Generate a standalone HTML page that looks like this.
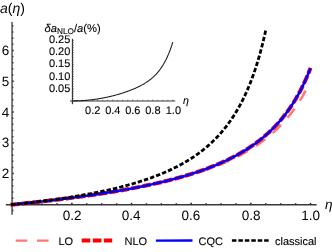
<!DOCTYPE html>
<html><head><meta charset="utf-8"><title>a(eta) chart</title>
<style>
html,body{margin:0;padding:0;background:#fff;}
body{width:332px;height:252px;overflow:hidden;font-family:"Liberation Sans",sans-serif;}
svg{display:block;will-change:transform;}
svg text{text-rendering:geometricPrecision;}
</style></head><body>
<svg width="332" height="252" viewBox="0 0 332 252">
<rect width="332" height="252" fill="#fff"/>
<g stroke="#383838" stroke-width="1.3" fill="none">
<line x1="12.05" y1="22" x2="12.05" y2="214.7"/>
<line x1="5.8" y1="204.75" x2="316.6" y2="204.75"/>
</g>
<g stroke="#2a2a2a" stroke-width="1.5" fill="none">
<line x1="27.16" y1="204.75" x2="27.16" y2="203.25"/>
<line x1="42.08" y1="204.75" x2="42.08" y2="203.25"/>
<line x1="56.99" y1="204.75" x2="56.99" y2="203.25"/>
<line x1="71.90" y1="204.75" x2="71.90" y2="202.85"/>
<line x1="86.81" y1="204.75" x2="86.81" y2="203.25"/>
<line x1="101.73" y1="204.75" x2="101.73" y2="203.25"/>
<line x1="116.64" y1="204.75" x2="116.64" y2="203.25"/>
<line x1="131.55" y1="204.75" x2="131.55" y2="202.85"/>
<line x1="146.46" y1="204.75" x2="146.46" y2="203.25"/>
<line x1="161.38" y1="204.75" x2="161.38" y2="203.25"/>
<line x1="176.29" y1="204.75" x2="176.29" y2="203.25"/>
<line x1="191.20" y1="204.75" x2="191.20" y2="202.85"/>
<line x1="206.11" y1="204.75" x2="206.11" y2="203.25"/>
<line x1="221.03" y1="204.75" x2="221.03" y2="203.25"/>
<line x1="235.94" y1="204.75" x2="235.94" y2="203.25"/>
<line x1="250.85" y1="204.75" x2="250.85" y2="202.85"/>
<line x1="265.76" y1="204.75" x2="265.76" y2="203.25"/>
<line x1="280.68" y1="204.75" x2="280.68" y2="203.25"/>
<line x1="295.59" y1="204.75" x2="295.59" y2="203.25"/>
<line x1="310.50" y1="204.75" x2="310.50" y2="202.85"/>
<line x1="12.25" y1="210.56" x2="13.40" y2="210.56"/>
<line x1="12.25" y1="198.24" x2="13.40" y2="198.24"/>
<line x1="12.25" y1="192.09" x2="13.40" y2="192.09"/>
<line x1="12.25" y1="185.93" x2="13.40" y2="185.93"/>
<line x1="12.25" y1="179.78" x2="13.40" y2="179.78"/>
<line x1="12.25" y1="173.62" x2="13.75" y2="173.62"/>
<line x1="12.25" y1="167.46" x2="13.40" y2="167.46"/>
<line x1="12.25" y1="161.31" x2="13.40" y2="161.31"/>
<line x1="12.25" y1="155.15" x2="13.40" y2="155.15"/>
<line x1="12.25" y1="149.00" x2="13.40" y2="149.00"/>
<line x1="12.25" y1="142.84" x2="13.75" y2="142.84"/>
<line x1="12.25" y1="136.68" x2="13.40" y2="136.68"/>
<line x1="12.25" y1="130.53" x2="13.40" y2="130.53"/>
<line x1="12.25" y1="124.37" x2="13.40" y2="124.37"/>
<line x1="12.25" y1="118.22" x2="13.40" y2="118.22"/>
<line x1="12.25" y1="112.06" x2="13.75" y2="112.06"/>
<line x1="12.25" y1="105.90" x2="13.40" y2="105.90"/>
<line x1="12.25" y1="99.75" x2="13.40" y2="99.75"/>
<line x1="12.25" y1="93.59" x2="13.40" y2="93.59"/>
<line x1="12.25" y1="87.44" x2="13.40" y2="87.44"/>
<line x1="12.25" y1="81.28" x2="13.75" y2="81.28"/>
<line x1="12.25" y1="75.12" x2="13.40" y2="75.12"/>
<line x1="12.25" y1="68.97" x2="13.40" y2="68.97"/>
<line x1="12.25" y1="62.81" x2="13.40" y2="62.81"/>
<line x1="12.25" y1="56.66" x2="13.40" y2="56.66"/>
<line x1="12.25" y1="50.50" x2="13.75" y2="50.50"/>
<line x1="12.25" y1="44.34" x2="13.40" y2="44.34"/>
<line x1="12.25" y1="38.19" x2="13.40" y2="38.19"/>
<line x1="12.25" y1="32.03" x2="13.40" y2="32.03"/>
<line x1="12.25" y1="25.88" x2="13.40" y2="25.88"/>
</g>
<path d="M12.25 204.60 L13.49 204.48 L14.73 204.35 L15.96 204.23 L17.20 204.10 L18.44 203.98 L19.68 203.85 L20.92 203.73 L22.15 203.60 L23.39 203.47 L24.63 203.34 L25.87 203.21 L27.11 203.08 L28.34 202.95 L29.58 202.82 L30.82 202.69 L32.06 202.55 L33.29 202.42 L34.53 202.28 L35.77 202.15 L37.01 202.01 L38.25 201.88 L39.48 201.74 L40.72 201.60 L41.96 201.46 L43.20 201.32 L44.44 201.18 L45.67 201.04 L46.91 200.90 L48.15 200.75 L49.39 200.61 L50.63 200.47 L51.86 200.32 L53.10 200.17 L54.34 200.03 L55.58 199.88 L56.82 199.73 L58.05 199.58 L59.29 199.43 L60.53 199.28 L61.77 199.13 L63.00 198.97 L64.24 198.82 L65.48 198.66 L66.72 198.51 L67.96 198.35 L69.19 198.19 L70.43 198.03 L71.67 197.87 L72.91 197.71 L74.15 197.55 L75.38 197.38 L76.62 197.22 L77.86 197.06 L79.10 196.89 L80.34 196.72 L81.57 196.55 L82.81 196.38 L84.05 196.21 L85.29 196.04 L86.53 195.87 L87.76 195.69 L89.00 195.52 L90.24 195.34 L91.48 195.16 L92.72 194.98 L93.95 194.80 L95.19 194.62 L96.43 194.44 L97.67 194.25 L98.90 194.07 L100.14 193.88 L101.38 193.69 L102.62 193.50 L103.86 193.31 L105.09 193.12 L106.33 192.93 L107.57 192.73 L108.81 192.53 L110.05 192.34 L111.28 192.14 L112.52 191.93 L113.76 191.73 L115.00 191.53 L116.24 191.32 L117.47 191.11 L118.71 190.90 L119.95 190.69 L121.19 190.48 L122.43 190.27 L123.66 190.05 L124.90 189.83 L126.14 189.61 L127.38 189.39 L128.61 189.17 L129.85 188.94 L131.09 188.72 L132.33 188.49 L133.57 188.26 L134.80 188.03 L136.04 187.79 L137.28 187.55 L138.52 187.32 L139.76 187.07 L140.99 186.83 L142.23 186.59 L143.47 186.34 L144.71 186.09 L145.95 185.84 L147.18 185.58 L148.42 185.33 L149.66 185.07 L150.90 184.81 L152.14 184.54 L153.37 184.27 L154.61 184.01 L155.85 183.73 L157.09 183.46 L158.33 183.18 L159.56 182.90 L160.80 182.62 L162.04 182.34 L163.28 182.05 L164.51 181.76 L165.75 181.46 L166.99 181.17 L168.23 180.86 L169.47 180.56 L170.70 180.25 L171.94 179.95 L173.18 179.63 L174.42 179.32 L175.66 179.00 L176.89 178.67 L178.13 178.34 L179.37 178.01 L180.61 177.68 L181.85 177.34 L183.08 177.00 L184.32 176.65 L185.56 176.30 L186.80 175.95 L188.04 175.59 L189.27 175.23 L190.51 174.86 L191.75 174.49 L192.99 174.12 L194.22 173.73 L195.46 173.35 L196.70 172.96 L197.94 172.57 L199.18 172.17 L200.41 171.76 L201.65 171.35 L202.89 170.94 L204.13 170.51 L205.37 170.09 L206.60 169.66 L207.84 169.22 L209.08 168.77 L210.32 168.32 L211.56 167.87 L212.79 167.41 L214.03 166.94 L215.27 166.46 L216.51 165.98 L217.75 165.49 L218.98 164.99 L220.22 164.49 L221.46 163.98 L222.70 163.46 L223.94 162.93 L225.17 162.40 L226.41 161.86 L227.65 161.30 L228.89 160.74 L230.12 160.18 L231.36 159.60 L232.60 159.01 L233.84 158.41 L235.08 157.81 L236.31 157.19 L237.55 156.57 L238.79 155.93 L240.03 155.28 L241.27 154.62 L242.50 153.95 L243.74 153.27 L244.98 152.57 L246.22 151.86 L247.46 151.14 L248.69 150.41 L249.93 149.66 L251.17 148.90 L252.41 148.13 L253.65 147.34 L254.88 146.53 L256.12 145.71 L257.36 144.88 L258.60 144.02 L259.83 143.15 L261.07 142.26 L262.31 141.35 L263.55 140.43 L264.79 139.48 L266.02 138.52 L267.26 137.53 L268.50 136.52 L269.74 135.49 L270.98 134.43 L272.21 133.36 L273.45 132.25 L274.69 131.12 L275.93 129.97 L277.17 128.79 L278.40 127.58 L279.64 126.33 L280.88 125.06 L282.12 123.76 L283.36 122.42 L284.59 121.05 L285.83 119.64 L287.07 118.20 L288.31 116.71 L289.55 115.19 L290.78 113.62 L292.02 112.01 L293.26 110.35 L294.50 108.65 L295.73 106.89 L296.97 105.08 L298.21 103.22 L299.45 101.30 L300.69 99.32 L301.92 97.27 L303.16 95.16 L304.40 92.98 L305.64 90.73 L306.88 88.40 L308.11 85.99" fill="none" stroke="#ff7878" stroke-width="2.5" stroke-dasharray="11.6 9.6" stroke-dashoffset="1.7"/>
<path d="M10.46 204.78 L11.72 204.65 L12.97 204.53 L14.23 204.40 L15.48 204.28 L16.74 204.15 L17.99 204.02 L19.25 203.90 L20.50 203.77 L21.76 203.64 L23.01 203.51 L24.27 203.38 L25.53 203.25 L26.78 203.11 L28.04 202.98 L29.29 202.85 L30.55 202.71 L31.80 202.58 L33.06 202.44 L34.31 202.31 L35.57 202.17 L36.82 202.03 L38.08 201.89 L39.33 201.75 L40.59 201.61 L41.85 201.47 L43.10 201.33 L44.36 201.18 L45.61 201.04 L46.87 200.90 L48.12 200.75 L49.38 200.60 L50.63 200.46 L51.89 200.31 L53.14 200.16 L54.40 200.01 L55.65 199.86 L56.91 199.70 L58.17 199.55 L59.42 199.40 L60.68 199.24 L61.93 199.09 L63.19 198.93 L64.44 198.77 L65.70 198.61 L66.95 198.45 L68.21 198.29 L69.46 198.13 L70.72 197.97 L71.97 197.80 L73.23 197.64 L74.49 197.47 L75.74 197.30 L77.00 197.14 L78.25 196.97 L79.51 196.80 L80.76 196.62 L82.02 196.45 L83.27 196.28 L84.53 196.10 L85.78 195.92 L87.04 195.74 L88.30 195.57 L89.55 195.38 L90.81 195.20 L92.06 195.02 L93.32 194.83 L94.57 194.65 L95.83 194.46 L97.08 194.27 L98.34 194.08 L99.59 193.89 L100.85 193.70 L102.10 193.50 L103.36 193.31 L104.62 193.11 L105.87 192.91 L107.13 192.71 L108.38 192.51 L109.64 192.30 L110.89 192.10 L112.15 191.89 L113.40 191.68 L114.66 191.47 L115.91 191.26 L117.17 191.04 L118.42 190.83 L119.68 190.61 L120.94 190.39 L122.19 190.17 L123.45 189.95 L124.70 189.72 L125.96 189.49 L127.21 189.26 L128.47 189.03 L129.72 188.80 L130.98 188.56 L132.23 188.33 L133.49 188.09 L134.74 187.85 L136.00 187.60 L137.26 187.36 L138.51 187.11 L139.77 186.86 L141.02 186.60 L142.28 186.35 L143.53 186.09 L144.79 185.83 L146.04 185.57 L147.30 185.30 L148.55 185.03 L149.81 184.76 L151.06 184.49 L152.32 184.21 L153.58 183.93 L154.83 183.65 L156.09 183.37 L157.34 183.08 L158.60 182.79 L159.85 182.49 L161.11 182.20 L162.36 181.90 L163.62 181.59 L164.87 181.29 L166.13 180.98 L167.38 180.66 L168.64 180.35 L169.90 180.03 L171.15 179.70 L172.41 179.38 L173.66 179.04 L174.92 178.71 L176.17 178.37 L177.43 178.03 L178.68 177.68 L179.94 177.33 L181.19 176.97 L182.45 176.61 L183.71 176.25 L184.96 175.88 L186.22 175.51 L187.47 175.13 L188.73 174.75 L189.98 174.36 L191.24 173.97 L192.49 173.57 L193.75 173.17 L195.00 172.76 L196.26 172.35 L197.51 171.93 L198.77 171.50 L200.03 171.07 L201.28 170.64 L202.54 170.20 L203.79 169.75 L205.05 169.29 L206.30 168.83 L207.56 168.36 L208.81 167.89 L210.07 167.41 L211.32 166.92 L212.58 166.42 L213.83 165.92 L215.09 165.41 L216.35 164.89 L217.60 164.36 L218.86 163.83 L220.11 163.29 L221.37 162.73 L222.62 162.17 L223.88 161.60 L225.13 161.02 L226.39 160.44 L227.64 159.84 L228.90 159.23 L230.15 158.61 L231.41 157.98 L232.67 157.34 L233.92 156.69 L235.18 156.03 L236.43 155.35 L237.69 154.66 L238.94 153.97 L240.20 153.25 L241.45 152.53 L242.71 151.79 L243.96 151.03 L245.22 150.27 L246.47 149.48 L247.73 148.69 L248.99 147.87 L250.24 147.04 L251.50 146.20 L252.75 145.33 L254.01 144.45 L255.26 143.55 L256.52 142.63 L257.77 141.69 L259.03 140.73 L260.28 139.75 L261.54 138.74 L262.79 137.72 L264.05 136.67 L265.31 135.59 L266.56 134.50 L267.82 133.37 L269.07 132.22 L270.33 131.04 L271.58 129.83 L272.84 128.59 L274.09 127.32 L275.35 126.02 L276.60 124.68 L277.86 123.31 L279.12 121.90 L280.37 120.45 L281.63 118.97 L282.88 117.44 L284.14 115.87 L285.39 114.25 L286.65 112.59 L287.90 110.87 L289.16 109.11 L290.41 107.29 L291.67 105.41 L292.92 103.48 L294.18 101.48 L295.44 99.42 L296.69 97.28 L297.95 95.08 L299.20 92.80 L300.46 90.44 L301.71 88.00 L302.97 85.47 L304.22 82.84 L305.48 80.11 L306.73 77.28 L307.99 74.34 L309.24 71.28 L310.50 68.10" fill="none" stroke="#ff0000" stroke-width="4" stroke-dasharray="8.6 2.5"/>
<path d="M11.36 204.69 L12.61 204.56 L13.86 204.44 L15.11 204.31 L16.36 204.19 L17.61 204.06 L18.87 203.93 L20.12 203.81 L21.37 203.68 L22.62 203.55 L23.87 203.42 L25.12 203.29 L26.38 203.16 L27.63 203.02 L28.88 202.89 L30.13 202.76 L31.38 202.62 L32.63 202.49 L33.88 202.35 L35.14 202.22 L36.39 202.08 L37.64 201.94 L38.89 201.80 L40.14 201.66 L41.39 201.52 L42.65 201.38 L43.90 201.24 L45.15 201.09 L46.40 200.95 L47.65 200.80 L48.90 200.66 L50.16 200.51 L51.41 200.36 L52.66 200.22 L53.91 200.07 L55.16 199.92 L56.41 199.76 L57.67 199.61 L58.92 199.46 L60.17 199.31 L61.42 199.15 L62.67 198.99 L63.92 198.84 L65.18 198.68 L66.43 198.52 L67.68 198.36 L68.93 198.20 L70.18 198.04 L71.43 197.87 L72.69 197.71 L73.94 197.54 L75.19 197.38 L76.44 197.21 L77.69 197.04 L78.94 196.87 L80.20 196.70 L81.45 196.53 L82.70 196.36 L83.95 196.18 L85.20 196.00 L86.45 195.83 L87.71 195.65 L88.96 195.47 L90.21 195.29 L91.46 195.11 L92.71 194.92 L93.96 194.74 L95.22 194.55 L96.47 194.36 L97.72 194.18 L98.97 193.99 L100.22 193.79 L101.47 193.60 L102.73 193.40 L103.98 193.21 L105.23 193.01 L106.48 192.81 L107.73 192.61 L108.98 192.41 L110.24 192.20 L111.49 192.00 L112.74 191.79 L113.99 191.58 L115.24 191.37 L116.49 191.16 L117.75 190.94 L119.00 190.73 L120.25 190.51 L121.50 190.29 L122.75 190.07 L124.00 189.85 L125.26 189.62 L126.51 189.39 L127.76 189.16 L129.01 188.93 L130.26 188.70 L131.51 188.46 L132.77 188.23 L134.02 187.99 L135.27 187.74 L136.52 187.50 L137.77 187.25 L139.02 187.01 L140.28 186.75 L141.53 186.50 L142.78 186.25 L144.03 185.99 L145.28 185.73 L146.53 185.46 L147.79 185.20 L149.04 184.93 L150.29 184.66 L151.54 184.38 L152.79 184.11 L154.04 183.83 L155.30 183.55 L156.55 183.26 L157.80 182.97 L159.05 182.68 L160.30 182.39 L161.55 182.09 L162.81 181.79 L164.06 181.49 L165.31 181.18 L166.56 180.87 L167.81 180.56 L169.06 180.24 L170.32 179.92 L171.57 179.60 L172.82 179.27 L174.07 178.94 L175.32 178.60 L176.57 178.26 L177.82 177.92 L179.08 177.57 L180.33 177.22 L181.58 176.86 L182.83 176.50 L184.08 176.14 L185.33 175.77 L186.59 175.40 L187.84 175.02 L189.09 174.64 L190.34 174.25 L191.59 173.86 L192.84 173.46 L194.10 173.06 L195.35 172.65 L196.60 172.23 L197.85 171.81 L199.10 171.39 L200.35 170.96 L201.61 170.52 L202.86 170.08 L204.11 169.63 L205.36 169.18 L206.61 168.72 L207.86 168.25 L209.12 167.77 L210.37 167.29 L211.62 166.80 L212.87 166.31 L214.12 165.80 L215.37 165.29 L216.63 164.77 L217.88 164.25 L219.13 163.71 L220.38 163.17 L221.63 162.62 L222.88 162.05 L224.14 161.48 L225.39 160.91 L226.64 160.32 L227.89 159.72 L229.14 159.11 L230.39 158.49 L231.65 157.86 L232.90 157.22 L234.15 156.57 L235.40 155.91 L236.65 155.23 L237.90 154.54 L239.16 153.84 L240.41 153.13 L241.66 152.41 L242.91 151.67 L244.16 150.91 L245.41 150.15 L246.67 149.36 L247.92 148.57 L249.17 147.75 L250.42 146.92 L251.67 146.08 L252.92 145.21 L254.18 144.33 L255.43 143.43 L256.68 142.51 L257.93 141.57 L259.18 140.61 L260.43 139.63 L261.69 138.63 L262.94 137.60 L264.19 136.55 L265.44 135.48 L266.69 134.38 L267.94 133.26 L269.20 132.11 L270.45 130.93 L271.70 129.72 L272.95 128.48 L274.20 127.21 L275.45 125.91 L276.71 124.57 L277.96 123.20 L279.21 121.79 L280.46 120.35 L281.71 118.86 L282.96 117.34 L284.22 115.77 L285.47 114.15 L286.72 112.49 L287.97 110.78 L289.22 109.02 L290.47 107.20 L291.73 105.33 L292.98 103.39 L294.23 101.40 L295.48 99.34 L296.73 97.21 L297.98 95.01 L299.24 92.74 L300.49 90.38 L301.74 87.95 L302.99 85.42 L304.24 82.80 L305.49 80.08 L306.75 77.26 L308.00 74.32 L309.25 71.27 L310.50 68.10" fill="none" stroke="#0000ff" stroke-width="2.5"/>
<path d="M11.00 204.73 L12.06 204.62 L13.13 204.51 L14.20 204.40 L15.26 204.29 L16.33 204.17 L17.39 204.06 L18.46 203.95 L19.53 203.83 L20.59 203.71 L21.66 203.60 L22.72 203.48 L23.79 203.36 L24.85 203.24 L25.92 203.12 L26.99 203.00 L28.05 202.88 L29.12 202.75 L30.18 202.63 L31.25 202.51 L32.32 202.38 L33.38 202.25 L34.45 202.12 L35.51 202.00 L36.58 201.87 L37.65 201.74 L38.71 201.60 L39.78 201.47 L40.84 201.34 L41.91 201.20 L42.98 201.06 L44.04 200.93 L45.11 200.79 L46.17 200.65 L47.24 200.51 L48.31 200.37 L49.37 200.22 L50.44 200.08 L51.50 199.93 L52.57 199.79 L53.64 199.64 L54.70 199.49 L55.77 199.34 L56.83 199.19 L57.90 199.04 L58.97 198.88 L60.03 198.73 L61.10 198.57 L62.16 198.41 L63.23 198.25 L64.30 198.09 L65.36 197.93 L66.43 197.77 L67.49 197.60 L68.56 197.44 L69.63 197.27 L70.69 197.10 L71.76 196.93 L72.82 196.76 L73.89 196.58 L74.96 196.41 L76.02 196.23 L77.09 196.05 L78.15 195.87 L79.22 195.69 L80.28 195.50 L81.35 195.32 L82.42 195.13 L83.48 194.94 L84.55 194.75 L85.61 194.56 L86.68 194.36 L87.75 194.17 L88.81 193.97 L89.88 193.77 L90.94 193.57 L92.01 193.36 L93.08 193.16 L94.14 192.95 L95.21 192.74 L96.27 192.53 L97.34 192.31 L98.41 192.10 L99.47 191.88 L100.54 191.66 L101.60 191.43 L102.67 191.21 L103.74 190.98 L104.80 190.75 L105.87 190.52 L106.93 190.28 L108.00 190.05 L109.07 189.81 L110.13 189.56 L111.20 189.32 L112.26 189.07 L113.33 188.82 L114.40 188.57 L115.46 188.31 L116.53 188.05 L117.59 187.79 L118.66 187.53 L119.73 187.26 L120.79 186.99 L121.86 186.72 L122.92 186.44 L123.99 186.16 L125.06 185.88 L126.12 185.59 L127.19 185.30 L128.25 185.01 L129.32 184.71 L130.39 184.41 L131.45 184.11 L132.52 183.80 L133.58 183.49 L134.65 183.18 L135.72 182.86 L136.78 182.54 L137.85 182.21 L138.91 181.88 L139.98 181.54 L141.04 181.21 L142.11 180.86 L143.18 180.52 L144.24 180.16 L145.31 179.81 L146.37 179.45 L147.44 179.08 L148.51 178.71 L149.57 178.33 L150.64 177.95 L151.70 177.57 L152.77 177.18 L153.84 176.78 L154.90 176.38 L155.97 175.97 L157.03 175.56 L158.10 175.14 L159.17 174.72 L160.23 174.29 L161.30 173.85 L162.36 173.41 L163.43 172.96 L164.50 172.50 L165.56 172.04 L166.63 171.57 L167.69 171.10 L168.76 170.61 L169.83 170.12 L170.89 169.62 L171.96 169.12 L173.02 168.60 L174.09 168.08 L175.16 167.55 L176.22 167.01 L177.29 166.47 L178.35 165.91 L179.42 165.35 L180.49 164.77 L181.55 164.19 L182.62 163.59 L183.68 162.99 L184.75 162.38 L185.82 161.75 L186.88 161.12 L187.95 160.47 L189.01 159.82 L190.08 159.15 L191.15 158.47 L192.21 157.77 L193.28 157.07 L194.34 156.35 L195.41 155.62 L196.47 154.87 L197.54 154.11 L198.61 153.34 L199.67 152.55 L200.74 151.74 L201.80 150.92 L202.87 150.09 L203.94 149.23 L205.00 148.36 L206.07 147.47 L207.13 146.57 L208.20 145.64 L209.27 144.70 L210.33 143.73 L211.40 142.75 L212.46 141.74 L213.53 140.71 L214.60 139.66 L215.66 138.58 L216.73 137.48 L217.79 136.36 L218.86 135.20 L219.93 134.02 L220.99 132.82 L222.06 131.58 L223.12 130.32 L224.19 129.02 L225.26 127.69 L226.32 126.32 L227.39 124.93 L228.45 123.49 L229.52 122.02 L230.59 120.51 L231.65 118.95 L232.72 117.36 L233.78 115.72 L234.85 114.03 L235.92 112.30 L236.98 110.51 L238.05 108.67 L239.11 106.78 L240.18 104.83 L241.25 102.82 L242.31 100.75 L243.38 98.61 L244.44 96.41 L245.51 94.13 L246.58 91.77 L247.64 89.34 L248.71 86.82 L249.77 84.21 L250.84 81.51 L251.90 78.71 L252.97 75.81 L254.04 72.79 L255.10 69.67 L256.17 66.41 L257.23 63.03 L258.30 59.51 L259.37 55.85 L260.43 52.02 L261.50 48.04 L262.56 43.87 L263.63 39.51 L264.70 34.96 L265.76 30.18" fill="none" stroke="#000" stroke-width="2.8" stroke-dasharray="4.35 2.1"/>
<g font-family="Liberation Sans, sans-serif" font-size="13.5" fill="#000">
<text x="9.3" y="178.2" text-anchor="end">2</text>
<text x="9.3" y="147.4" text-anchor="end">3</text>
<text x="9.3" y="116.7" text-anchor="end">4</text>
<text x="9.3" y="85.9" text-anchor="end">5</text>
<text x="9.3" y="55.1" text-anchor="end">6</text>
<text x="72.1" y="219.8" text-anchor="middle">0.2</text>
<text x="131.2" y="219.8" text-anchor="middle">0.4</text>
<text x="190.9" y="219.8" text-anchor="middle">0.6</text>
<text x="251.1" y="219.8" text-anchor="middle">0.8</text>
<text x="310.7" y="219.8" text-anchor="middle">1.0</text>
<text x="0" y="13.1" font-size="14" font-style="italic">a<tspan font-style="normal">(</tspan>η<tspan font-style="normal">)</tspan></text>
<text x="325.0" y="209.1" font-size="13.6" font-style="italic">η</text>
</g>
<g stroke="#383838" stroke-width="1.2" fill="none">
<line x1="72.44999999999999" y1="38.8" x2="72.44999999999999" y2="104.2"/>
<line x1="70.0" y1="101.0" x2="175.3" y2="101.0"/>
</g>
<g stroke="#383838" stroke-width="0.7" fill="none">
<line x1="77.61" y1="100.9" x2="77.61" y2="99.85"/>
<line x1="82.62" y1="100.9" x2="82.62" y2="99.85"/>
<line x1="87.63" y1="100.9" x2="87.63" y2="99.85"/>
<line x1="92.64" y1="100.9" x2="92.64" y2="99.60"/>
<line x1="97.65" y1="100.9" x2="97.65" y2="99.85"/>
<line x1="102.66" y1="100.9" x2="102.66" y2="99.85"/>
<line x1="107.67" y1="100.9" x2="107.67" y2="99.85"/>
<line x1="112.68" y1="100.9" x2="112.68" y2="99.60"/>
<line x1="117.69" y1="100.9" x2="117.69" y2="99.85"/>
<line x1="122.70" y1="100.9" x2="122.70" y2="99.85"/>
<line x1="127.71" y1="100.9" x2="127.71" y2="99.85"/>
<line x1="132.72" y1="100.9" x2="132.72" y2="99.60"/>
<line x1="137.73" y1="100.9" x2="137.73" y2="99.85"/>
<line x1="142.74" y1="100.9" x2="142.74" y2="99.85"/>
<line x1="147.75" y1="100.9" x2="147.75" y2="99.85"/>
<line x1="152.76" y1="100.9" x2="152.76" y2="99.60"/>
<line x1="157.77" y1="100.9" x2="157.77" y2="99.85"/>
<line x1="162.78" y1="100.9" x2="162.78" y2="99.85"/>
<line x1="167.79" y1="100.9" x2="167.79" y2="99.85"/>
<line x1="172.80" y1="100.9" x2="172.80" y2="99.60"/>
<line x1="72.6" y1="98.48" x2="73.65" y2="98.48"/>
<line x1="72.6" y1="96.06" x2="73.65" y2="96.06"/>
<line x1="72.6" y1="93.64" x2="73.65" y2="93.64"/>
<line x1="72.6" y1="91.22" x2="73.65" y2="91.22"/>
<line x1="72.6" y1="88.80" x2="73.90" y2="88.80"/>
<line x1="72.6" y1="86.38" x2="73.65" y2="86.38"/>
<line x1="72.6" y1="83.96" x2="73.65" y2="83.96"/>
<line x1="72.6" y1="81.54" x2="73.65" y2="81.54"/>
<line x1="72.6" y1="79.12" x2="73.65" y2="79.12"/>
<line x1="72.6" y1="76.70" x2="73.90" y2="76.70"/>
<line x1="72.6" y1="74.28" x2="73.65" y2="74.28"/>
<line x1="72.6" y1="71.86" x2="73.65" y2="71.86"/>
<line x1="72.6" y1="69.44" x2="73.65" y2="69.44"/>
<line x1="72.6" y1="67.02" x2="73.65" y2="67.02"/>
<line x1="72.6" y1="64.60" x2="73.90" y2="64.60"/>
<line x1="72.6" y1="62.18" x2="73.65" y2="62.18"/>
<line x1="72.6" y1="59.76" x2="73.65" y2="59.76"/>
<line x1="72.6" y1="57.34" x2="73.65" y2="57.34"/>
<line x1="72.6" y1="54.92" x2="73.65" y2="54.92"/>
<line x1="72.6" y1="52.50" x2="73.90" y2="52.50"/>
<line x1="72.6" y1="50.08" x2="73.65" y2="50.08"/>
<line x1="72.6" y1="47.66" x2="73.65" y2="47.66"/>
<line x1="72.6" y1="45.24" x2="73.65" y2="45.24"/>
<line x1="72.6" y1="42.82" x2="73.65" y2="42.82"/>
<line x1="72.6" y1="40.40" x2="73.90" y2="40.40"/>
</g>
<path d="M72.60 100.90 L73.02 100.90 L73.44 100.90 L73.86 100.90 L74.28 100.89 L74.70 100.89 L75.12 100.88 L75.53 100.87 L75.95 100.86 L76.37 100.86 L76.79 100.84 L77.21 100.83 L77.63 100.82 L78.05 100.81 L78.47 100.79 L78.89 100.78 L79.31 100.76 L79.73 100.74 L80.15 100.72 L80.57 100.70 L80.98 100.68 L81.40 100.66 L81.82 100.63 L82.24 100.61 L82.66 100.58 L83.08 100.56 L83.50 100.53 L83.92 100.50 L84.34 100.47 L84.76 100.44 L85.18 100.40 L85.60 100.37 L86.02 100.34 L86.44 100.30 L86.85 100.26 L87.27 100.23 L87.69 100.19 L88.11 100.15 L88.53 100.10 L88.95 100.06 L89.37 100.02 L89.79 99.97 L90.21 99.93 L90.63 99.88 L91.05 99.83 L91.47 99.78 L91.89 99.73 L92.30 99.68 L92.72 99.63 L93.14 99.58 L93.56 99.52 L93.98 99.47 L94.40 99.41 L94.82 99.35 L95.24 99.29 L95.66 99.23 L96.08 99.17 L96.50 99.11 L96.92 99.05 L97.34 98.98 L97.75 98.92 L98.17 98.85 L98.59 98.78 L99.01 98.71 L99.43 98.64 L99.85 98.57 L100.27 98.50 L100.69 98.43 L101.11 98.35 L101.53 98.28 L101.95 98.20 L102.37 98.12 L102.79 98.04 L103.21 97.96 L103.62 97.88 L104.04 97.80 L104.46 97.72 L104.88 97.63 L105.30 97.55 L105.72 97.46 L106.14 97.37 L106.56 97.29 L106.98 97.20 L107.40 97.10 L107.82 97.01 L108.24 96.92 L108.66 96.82 L109.07 96.73 L109.49 96.63 L109.91 96.54 L110.33 96.44 L110.75 96.34 L111.17 96.24 L111.59 96.13 L112.01 96.03 L112.43 95.93 L112.85 95.82 L113.27 95.71 L113.69 95.60 L114.11 95.50 L114.52 95.39 L114.94 95.27 L115.36 95.16 L115.78 95.05 L116.20 94.93 L116.62 94.82 L117.04 94.70 L117.46 94.58 L117.88 94.46 L118.30 94.34 L118.72 94.22 L119.14 94.10 L119.56 93.97 L119.97 93.85 L120.39 93.72 L120.81 93.59 L121.23 93.46 L121.65 93.33 L122.07 93.20 L122.49 93.06 L122.91 92.93 L123.33 92.79 L123.75 92.66 L124.17 92.52 L124.59 92.38 L125.01 92.24 L125.43 92.09 L125.84 91.95 L126.26 91.80 L126.68 91.66 L127.10 91.51 L127.52 91.36 L127.94 91.21 L128.36 91.05 L128.78 90.90 L129.20 90.74 L129.62 90.58 L130.04 90.42 L130.46 90.26 L130.88 90.10 L131.29 89.94 L131.71 89.77 L132.13 89.60 L132.55 89.43 L132.97 89.26 L133.39 89.08 L133.81 88.91 L134.23 88.73 L134.65 88.55 L135.07 88.37 L135.49 88.18 L135.91 87.99 L136.33 87.81 L136.74 87.61 L137.16 87.42 L137.58 87.22 L138.00 87.02 L138.42 86.82 L138.84 86.62 L139.26 86.41 L139.68 86.20 L140.10 85.98 L140.52 85.77 L140.94 85.55 L141.36 85.33 L141.78 85.10 L142.19 84.87 L142.61 84.64 L143.03 84.40 L143.45 84.16 L143.87 83.91 L144.29 83.66 L144.71 83.41 L145.13 83.15 L145.55 82.89 L145.97 82.62 L146.39 82.35 L146.81 82.07 L147.23 81.79 L147.65 81.50 L148.06 81.21 L148.48 80.91 L148.90 80.61 L149.32 80.30 L149.74 79.98 L150.16 79.66 L150.58 79.33 L151.00 78.99 L151.42 78.65 L151.84 78.30 L152.26 77.94 L152.68 77.57 L153.10 77.19 L153.51 76.81 L153.93 76.42 L154.35 76.01 L154.77 75.60 L155.19 75.18 L155.61 74.75 L156.03 74.31 L156.45 73.85 L156.87 73.39 L157.29 72.91 L157.71 72.43 L158.13 71.93 L158.55 71.41 L158.96 70.89 L159.38 70.35 L159.80 69.79 L160.22 69.22 L160.64 68.64 L161.06 68.04 L161.48 67.42 L161.90 66.79 L162.32 66.14 L162.74 65.47 L163.16 64.78 L163.58 64.08 L164.00 63.35 L164.42 62.61 L164.83 61.84 L165.25 61.05 L165.67 60.24 L166.09 59.40 L166.51 58.54 L166.93 57.66 L167.35 56.75 L167.77 55.82 L168.19 54.85 L168.61 53.86 L169.03 52.84 L169.45 51.79 L169.87 50.71 L170.28 49.60 L170.70 48.45 L171.12 47.27 L171.54 46.06 L171.96 44.81 L172.38 43.52 L172.80 42.19" fill="none" stroke="#222" stroke-width="1.1"/>
<g font-family="Liberation Sans, sans-serif" font-size="11" fill="#000" stroke="#000" stroke-width="0.1">
<text x="70.3" y="92.1" text-anchor="end">0.05</text>
<text x="70.3" y="79.8" text-anchor="end">0.10</text>
<text x="70.3" y="67.4" text-anchor="end">0.15</text>
<text x="70.3" y="55.3" text-anchor="end">0.20</text>
<text x="70.3" y="42.6" text-anchor="end">0.25</text>
<text x="92.7" y="113.8" text-anchor="middle">0.2</text>
<text x="112.8" y="113.8" text-anchor="middle">0.4</text>
<text x="132.8" y="113.8" text-anchor="middle">0.6</text>
<text x="152.9" y="113.8" text-anchor="middle">0.8</text>
<text x="173.4" y="113.8" text-anchor="middle">1.0</text>
<text x="44.6" y="31.5" font-size="11.2"><tspan font-style="italic">δa</tspan><tspan font-size="8.2" dy="2">NLO</tspan><tspan dy="-2">/</tspan><tspan font-style="italic">a</tspan>(%)</text>
<text x="183.0" y="104.3" font-style="italic" font-size="10.6">η</text>
</g>
<line x1="15.7" y1="240.6" x2="48.7" y2="240.6" stroke="#ff7878" stroke-width="2.35" stroke-dasharray="11.6 9.7"/>
<line x1="81.7" y1="240.5" x2="112.2" y2="240.5" stroke="#ff0000" stroke-width="3.85" stroke-dasharray="8.6 2.5"/>
<line x1="155.9" y1="240.6" x2="192.5" y2="240.5" stroke="#0000ff" stroke-width="2.3"/>
<line x1="231.9" y1="240.5" x2="268.8" y2="240.5" stroke="#000" stroke-width="2.3" stroke-dasharray="4.55 1.9"/>
<g font-family="Liberation Sans, sans-serif" font-size="11" fill="#000" stroke="#000" stroke-width="0.1">
<text x="58.5" y="244.6">LO</text>
<text x="124.5" y="244.6">NLO</text>
<text x="198.5" y="244.6">CQC</text>
<text x="275" y="244.6">classical</text>
</g>
</svg>
</body></html>
